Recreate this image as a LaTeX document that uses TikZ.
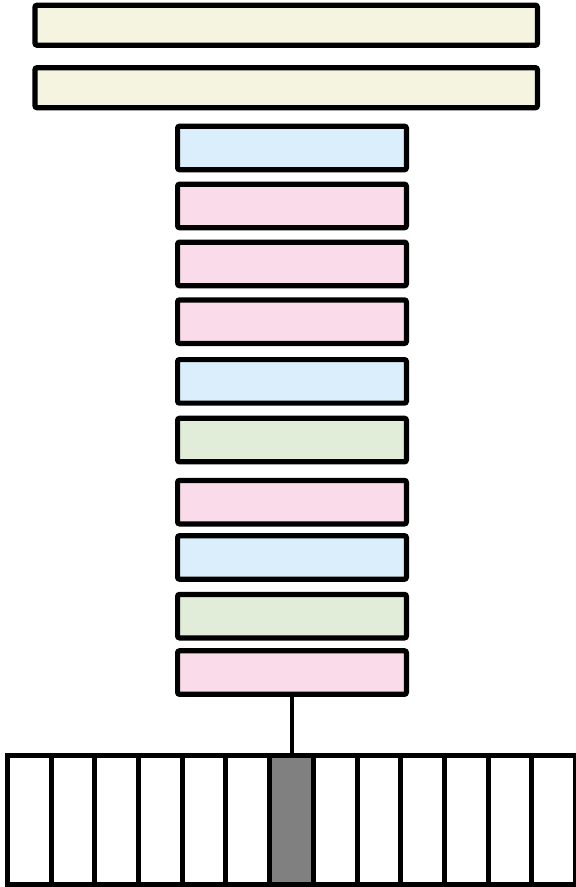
\documentclass[tikz,border=0pt]{standalone}
\usepackage{tikz}
\usepackage{xcolor}
\usetikzlibrary{positioning}
\definecolor{cream}{HTML}{F5F4E0}
\definecolor{skyblue}{HTML}{DAEEFB}
\definecolor{rosepink}{HTML}{FADBEA}
\definecolor{sagegreen}{HTML}{E1EDD8}
\definecolor{tokgray}{HTML}{808080}
\tikzset{
  headbar/.style={
    rounded corners=2pt,
    fill=cream,
    draw=black,
    line width=5.2pt,
    inner sep=0pt,
    minimum width=502.4pt,
    minimum height=40pt
  },
  layerbox/.style={
    rounded corners=2pt,
    draw=black,
    line width=5.2pt,
    inner sep=0pt,
    minimum width=228.8pt,
    minimum height=43.5pt
  },
  tokcell/.style={
    draw=black,
    fill=white,
    line width=5pt,
    inner sep=0pt,
    minimum width=43.7pt,
    minimum height=128.5pt
  },
  stem/.style={line width=4pt, draw=black}
}

\begin{document}
\begin{tikzpicture}
      \useasboundingbox (0pt,0pt) rectangle (576pt,-887pt);
      \node[headbar] (top1) at (286.2pt,-25.2pt) {};
      \node[headbar,below=17.3pt of top1] (top2) {};
      \node[layerbox,fill=skyblue,below=13.3pt of top2,xshift=5.8pt] (l1) {};
      \node[layerbox,fill=rosepink,below=9.3pt of l1] (l2) {};
      \node[layerbox,fill=rosepink,below=9.3pt of l2] (l3) {};
      \node[layerbox,fill=rosepink,below=9pt of l3] (l4) {};
      \node[layerbox,fill=skyblue,below=11pt of l4] (l5) {};
      \node[layerbox,fill=sagegreen,below=10pt of l5] (l6) {};
      \node[layerbox,fill=rosepink,below=13.4pt of l6] (l7) {};
      \node[layerbox,fill=skyblue,below=6.6pt of l7] (l8) {};
      \node[layerbox,fill=sagegreen,below=10pt of l8] (l9) {};
      \node[layerbox,fill=rosepink,below=7.7pt of l9] (l10) {};
      % token strip, the seventh cell is the picked one
      \foreach \i in {1,...,13} {
        \ifnum\i=7
          \node[tokcell,fill=tokgray] (c\i) at ({7.4pt+(\i-0.5)*43.7pt},-819.75pt) {};
        \else
          \node[tokcell] (c\i) at ({7.4pt+(\i-0.5)*43.7pt},-819.75pt) {};
        \fi
      }
      \draw[stem] (l10.south) -- (l10.south |- c7.north);
    \end{tikzpicture}
\end{document}
